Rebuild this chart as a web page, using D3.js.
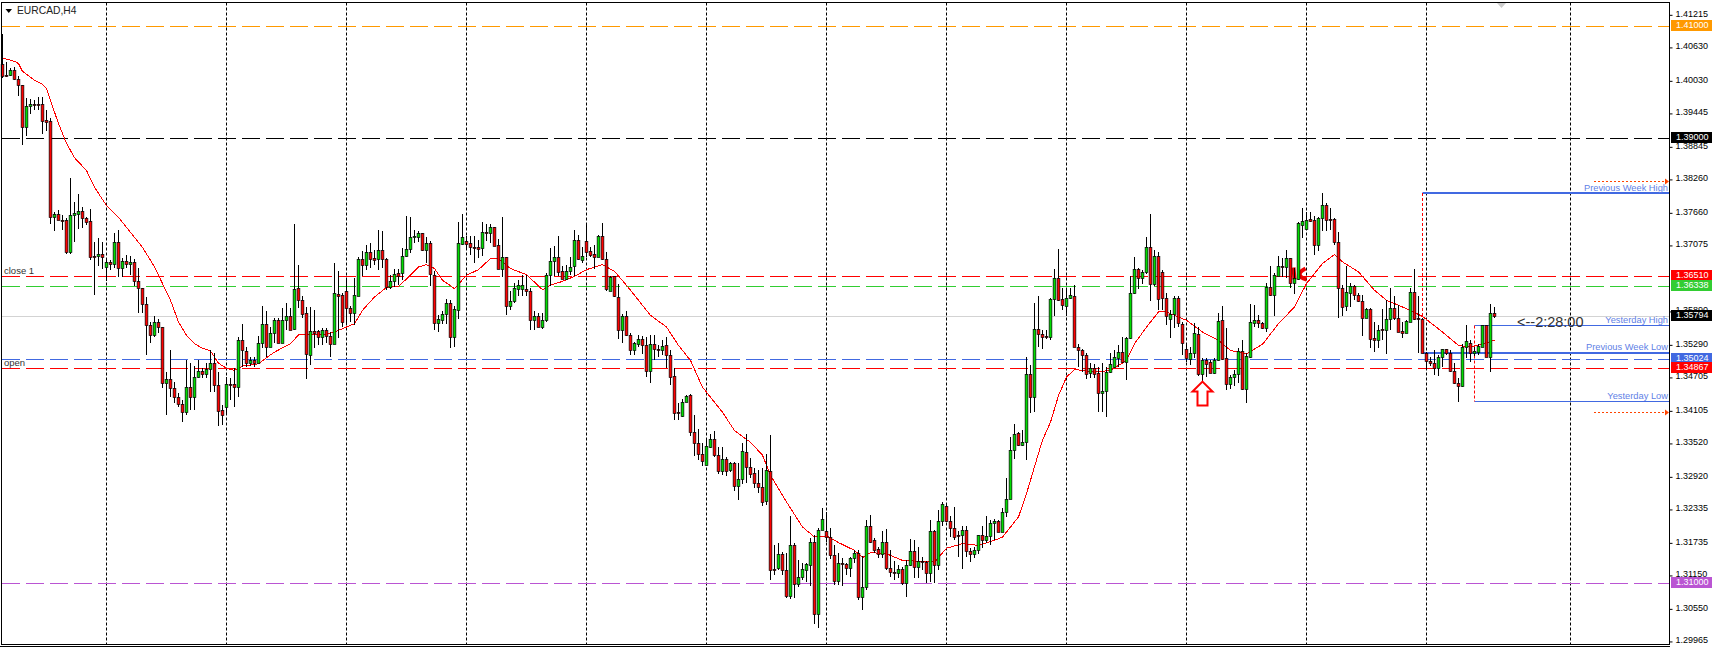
<!DOCTYPE html>
<html>
<head>
<meta charset="utf-8">
<title>EURCAD,H4</title>
<script src="https://cdn.jsdelivr.net/npm/d3@7"></script>
<style>
  body { margin: 0; background: #fff; }
  svg { display: block; }
  text { font-family: "Liberation Sans", sans-serif; }
</style>
</head>
<body>
<div id="chart"></div>
<script>
// Candle values, in pips above 1.0000 (4032 = 1.4032).
const highs = [
  4086,4036,4025,4027,4011,3995,3971,3970,3968,3973,
  3973,3950,3935,3767,3770,3761,3756,3828,3785,3799,
  3776,3758,3772,3712,3720,3712,3684,3681,3729,3734,
  3684,3690,3688,3682,3666,3630,3614,3570,3579,3574,
  3560,3480,3519,3462,3442,3429,3501,3495,3490,3500,
  3487,3496,3519,3514,3480,3420,3471,3469,3487,3543,
  3566,3525,3507,3507,3544,3598,3588,3561,3576,3576,
  3594,3604,3594,3745,3672,3616,3596,3596,3591,3555,
  3558,3558,3552,3675,3660,3621,3648,3597,3648,3686,
  3697,3707,3711,3699,3734,3733,3684,3654,3664,3664,
  3702,3760,3757,3734,3733,3729,3722,3714,3660,3582,
  3588,3610,3609,3597,3749,3763,3724,3724,3724,3717,
  3749,3745,3745,3740,3719,3757,3686,3624,3640,3645,
  3654,3654,3630,3588,3586,3585,3657,3702,3706,3724,
  3669,3672,3686,3734,3725,3704,3745,3704,3707,3725,
  3746,3695,3652,3652,3638,3584,3589,3549,3534,3545,
  3544,3543,3546,3546,3528,3537,3543,3519,3486,3423,
  3431,3438,3440,3402,3377,3352,3357,3368,3374,3345,
  3344,3326,3318,3317,3316,3352,3368,3325,3307,3304,
  3307,3332,3366,3169,3172,3157,3154,3221,3172,3142,
  3137,3137,3182,3187,3199,3235,3228,3199,3169,3155,
  3146,3137,3148,3159,3159,3149,3214,3223,3181,3166,
  3194,3197,3160,3140,3133,3129,3142,3180,3177,3166,
  3147,3140,3214,3196,3232,3246,3241,3220,3237,3194,
  3203,3202,3164,3165,3186,3203,3221,3214,3215,3214,
  3235,3289,3363,3386,3372,3375,3507,3492,3604,3615,
  3555,3555,3612,3664,3700,3630,3630,3630,3636,3530,
  3520,3514,3495,3494,3489,3495,3489,3514,3519,3527,
  3543,3543,3651,3685,3666,3663,3722,3763,3698,3695,
  3663,3621,3591,3615,3616,3570,3528,3525,3568,3560,
  3504,3504,3501,3504,3585,3597,3558,3474,3483,3522,
  3537,3513,3601,3600,3582,3570,3640,3670,3657,3688,
  3684,3698,3684,3666,3749,3773,3767,3766,3760,3758,
  3800,3783,3773,3755,3731,3636,3669,3639,3636,3621,
  3618,3594,3594,3570,3564,3592,3609,3630,3615,3600,
  3570,3573,3630,3665,3615,3576,3516,3507,3519,3510,
  3521,3521,3519,3495,3468,3529,3563,3537,3525,3530,
  3564,3564,3602,3596
];
const lows = [
  4007,4009,4011,4004,3975,3887,3903,3943,3950,3950,
  3907,3912,3745,3733,3752,3734,3692,3692,3713,3736,
  3738,3743,3681,3618,3669,3664,3643,3663,3666,3650,
  3650,3666,3654,3634,3585,3585,3509,3532,3543,3549,
  3450,3402,3435,3423,3417,3390,3402,3411,3411,3468,
  3468,3469,3444,3444,3383,3384,3406,3429,3416,3435,
  3489,3489,3491,3489,3495,3522,3507,3525,3532,3532,
  3532,3554,3554,3554,3594,3576,3467,3492,3522,3528,
  3528,3531,3507,3529,3540,3561,3564,3570,3564,3615,
  3651,3663,3666,3672,3663,3666,3627,3628,3632,3636,
  3645,3686,3693,3711,3712,3696,3675,3633,3555,3552,
  3566,3566,3523,3525,3575,3707,3700,3690,3675,3684,
  3688,3715,3711,3706,3664,3650,3582,3590,3603,3615,
  3615,3615,3554,3555,3561,3556,3570,3633,3651,3651,
  3646,3645,3654,3651,3680,3675,3686,3686,3664,3686,
  3681,3625,3624,3614,3538,3532,3544,3510,3509,3525,
  3512,3471,3459,3501,3507,3510,3486,3456,3393,3393,
  3399,3425,3365,3329,3322,3311,3313,3343,3327,3297,
  3295,3293,3300,3266,3250,3279,3280,3289,3271,3262,
  3238,3241,3106,3115,3124,3115,3073,3072,3074,3093,
  3106,3103,3096,3027,3019,3196,3175,3144,3097,3097,
  3096,3115,3112,3137,3070,3052,3088,3173,3154,3145,
  3145,3124,3112,3106,3109,3097,3075,3131,3110,3109,
  3124,3101,3103,3101,3124,3202,3210,3184,3178,3148,
  3126,3148,3139,3145,3153,3163,3172,3168,3178,3192,
  3192,3219,3251,3323,3347,3347,3321,3406,3408,3525,
  3521,3539,3536,3580,3606,3591,3579,3611,3525,3489,
  3480,3467,3468,3468,3408,3407,3398,3477,3487,3489,
  3495,3465,3539,3619,3629,3638,3655,3606,3633,3591,
  3591,3564,3540,3559,3561,3510,3498,3492,3504,3473,
  3456,3470,3477,3476,3499,3501,3447,3448,3454,3459,
  3447,3424,3504,3561,3558,3556,3552,3615,3580,3651,
  3650,3648,3630,3620,3645,3720,3734,3749,3690,3696,
  3733,3733,3734,3707,3576,3579,3588,3596,3609,3605,
  3544,3576,3522,3516,3522,3537,3512,3555,3573,3552,
  3540,3549,3569,3573,3514,3513,3483,3490,3474,3472,
  3489,3510,3480,3458,3426,3453,3504,3498,3508,3510,
  3524,3506,3480,3577
];
const opens = [
  4032,4013,4013,4022,4006,3995,3919,3957,3961,3961,
  3961,3931,3930,3757,3763,3753,3752,3694,3761,3763,
  3769,3756,3751,3688,3688,3691,3667,3677,3673,3712,
  3666,3679,3673,3677,3643,3630,3601,3564,3545,3569,
  3560,3459,3466,3450,3434,3422,3407,3452,3434,3470,
  3481,3475,3485,3495,3456,3411,3416,3458,3457,3453,
  3536,3517,3496,3501,3496,3531,3565,3525,3549,3573,
  3532,3572,3579,3556,3630,3609,3585,3509,3553,3553,
  3543,3555,3544,3530,3619,3617,3624,3594,3586,3615,
  3682,3672,3695,3684,3682,3699,3682,3632,3642,3657,
  3657,3688,3700,3721,3722,3729,3699,3711,3654,3567,
  3572,3583,3603,3542,3590,3709,3715,3711,3704,3704,
  3702,3731,3729,3739,3707,3664,3685,3597,3606,3628,
  3628,3628,3624,3573,3579,3561,3572,3654,3678,3685,
  3660,3647,3661,3669,3717,3681,3714,3697,3691,3686,
  3724,3682,3625,3651,3614,3554,3579,3546,3519,3530,
  3539,3528,3482,3529,3521,3519,3528,3510,3472,3407,
  3401,3426,3438,3372,3351,3333,3313,3345,3359,3331,
  3302,3323,3304,3316,3274,3287,3336,3309,3298,3280,
  3273,3247,3302,3125,3127,3152,3123,3077,3168,3098,
  3111,3124,3132,3175,3045,3196,3194,3183,3151,3104,
  3137,3134,3127,3145,3155,3076,3093,3203,3177,3161,
  3153,3174,3128,3121,3119,3125,3100,3133,3158,3129,
  3140,3139,3118,3194,3132,3212,3238,3212,3199,3187,
  3187,3195,3158,3153,3160,3186,3177,3185,3209,3212,
  3192,3228,3251,3339,3370,3349,3354,3476,3435,3556,
  3547,3544,3542,3610,3648,3610,3597,3612,3616,3525,
  3518,3509,3477,3487,3477,3441,3445,3479,3489,3505,
  3515,3497,3541,3621,3664,3648,3658,3703,3638,3688,
  3658,3612,3574,3583,3612,3565,3520,3503,3513,3547,
  3475,3500,3497,3478,3501,3572,3504,3457,3471,3475,
  3517,3449,3507,3568,3572,3567,3559,3632,3617,3652,
  3669,3668,3684,3639,3646,3743,3736,3754,3752,3708,
  3755,3779,3754,3754,3713,3631,3597,3622,3633,3618,
  3607,3577,3592,3540,3537,3556,3554,3574,3594,3576,
  3553,3550,3570,3623,3576,3574,3513,3499,3495,3486,
  3507,3520,3513,3481,3459,3454,3524,3532,3513,3515,
  3525,3563,3507,3585
];
const closes = [
  4011,4011,4022,4006,3995,3919,3957,3961,3959,3959,
  3930,3929,3758,3763,3752,3751,3694,3761,3765,3769,
  3755,3749,3685,3686,3691,3685,3677,3673,3712,3666,
  3679,3673,3677,3642,3631,3601,3563,3545,3569,3560,
  3459,3466,3450,3434,3422,3407,3452,3434,3470,3481,
  3475,3485,3496,3456,3410,3402,3457,3456,3453,3536,
  3519,3496,3501,3496,3531,3565,3525,3549,3573,3532,
  3573,3579,3554,3629,3608,3584,3511,3553,3550,3543,
  3555,3544,3529,3621,3615,3570,3594,3586,3617,3682,
  3672,3694,3682,3681,3699,3682,3632,3642,3655,3652,
  3688,3700,3722,3724,3729,3699,3711,3655,3567,3574,
  3583,3603,3542,3592,3711,3721,3709,3703,3702,3701,
  3730,3729,3739,3706,3664,3685,3597,3606,3630,3635,
  3635,3624,3573,3579,3561,3572,3654,3678,3685,3658,
  3647,3661,3667,3717,3682,3688,3695,3690,3686,3724,
  3682,3628,3650,3615,3554,3579,3545,3519,3531,3539,
  3527,3482,3529,3520,3518,3526,3509,3471,3405,3405,
  3426,3437,3372,3351,3333,3320,3346,3359,3331,3302,
  3323,3302,3316,3274,3287,3337,3308,3297,3280,3273,
  3246,3304,3123,3124,3152,3123,3077,3168,3098,3111,
  3125,3134,3174,3045,3196,3215,3183,3151,3104,3136,
  3134,3127,3145,3155,3076,3093,3203,3174,3160,3153,
  3174,3128,3121,3118,3125,3100,3133,3158,3129,3140,
  3138,3118,3193,3132,3212,3242,3212,3199,3184,3185,
  3195,3158,3153,3160,3186,3177,3185,3208,3212,3192,
  3228,3251,3339,3368,3349,3354,3476,3435,3556,3547,
  3543,3542,3610,3648,3608,3600,3612,3617,3525,3518,
  3509,3476,3487,3476,3441,3445,3479,3494,3506,3515,
  3497,3541,3621,3664,3648,3658,3703,3638,3688,3611,
  3612,3579,3583,3612,3567,3531,3505,3513,3549,3475,
  3500,3494,3478,3501,3571,3502,3457,3470,3475,3517,
  3449,3508,3569,3572,3567,3559,3632,3617,3653,3669,
  3667,3684,3640,3648,3746,3750,3752,3751,3708,3755,
  3779,3752,3752,3713,3631,3596,3623,3633,3618,3606,
  3577,3592,3539,3537,3555,3554,3574,3594,3577,3552,
  3550,3571,3623,3574,3574,3513,3499,3495,3486,3507,
  3520,3513,3481,3459,3455,3525,3535,3514,3517,3526,
  3563,3507,3585,3579
];

// Moving average at these bars.
const maBars = [0,3,4,5,8,10,11,12,14,16,18,21,23,26,29,32,35,38,40,42,44,46,48,50,52,54,56,58,60,64,66,68,72,74,76,80,83,88,90,93,96,99,102,104,106,108,110,113,116,119,122,124,127,131,135,137,140,143,146,150,153,156,160,162,166,169,172,175,178,180,183,187,190,192,196,200,203,206,209,213,215,217,221,225,230,233,236,240,244,248,250,254,256,258,260,262,264,266,268,273,277,281,283,286,289,291,296,300,304,307,311,315,319,323,326,330,333,335,339,343,346,351,355,360,364,367,373];
const maValues = [4044,4038,4034,4020,4004,3997,3989,3968,3926,3891,3865,3842,3812,3779,3758,3731,3704,3669,3639,3609,3570,3546,3531,3523,3518,3496,3487,3483,3491,3495,3506,3516,3531,3547,3547,3547,3552,3567,3591,3615,3632,3634,3654,3669,3673,3666,3645,3630,3654,3664,3684,3684,3666,3655,3628,3636,3643,3652,3664,3673,3661,3636,3600,3582,3561,3528,3501,3453,3426,3408,3375,3354,3331,3295,3247,3202,3184,3186,3174,3160,3147,3156,3154,3142,3140,3139,3164,3172,3169,3178,3184,3220,3262,3310,3358,3390,3438,3471,3485,3480,3483,3501,3531,3561,3588,3588,3573,3552,3537,3519,3513,3530,3567,3597,3639,3675,3691,3678,3660,3627,3609,3594,3580,3552,3528,3525,3537];

// Price scale labels and vertical separators.
const yTicks = [1.41215,1.40630,1.40030,1.39445,1.38845,1.38260,1.37660,1.37075,1.35890,1.35290,1.34705,1.34105,1.33520,1.32920,1.32335,1.31735,1.31150,1.30550,1.29965];
const gridBars = [26,56,86,116,146,176,206,236,266,296,326,356,392];

// Horizontal price levels with their tags.
const levelPrices = [1.41000,1.39000,1.36510,1.36338,1.35024,1.34867,1.31000];
const levelColors = ["#ff9900","#000000","#ff0000","#32cd32","#4169e1","#ff0000","#ba55d3"];

// Weekly and daily range lines.
const rangeNames = ["Previous Week High","Previous Week Low","Yesterday High","Yesterday Low"];
const rangePrices = [1.38016,1.35144,1.35637,1.34273];
const rangeStart = [355,355,368,368];
const rangeWidth = [2,2,1,1];
const rangeLabelPrices = [1.38046,1.35191,1.35676,1.34324];
const lastPrice = 1.35794;
const arrowPrices = [1.38223,1.34076];

const width = 1714;
const height = 647;
const plotLeft = 1.5;
const plotRight = 1669.5;
const plotTop = 2.5;
const plotBottom = 644.5;

const x = d3.scaleLinear([0, 373], [2.5, 1494.5]);
const y = d3.scaleLinear([1.41, 1.31], [26.8, 583.8]);
const fromPips = d => 1 + d / 10000;
const crisp = v => Math.floor(v) + 0.5;

const svg = d3.select("#chart").append("svg")
  .attr("width", width)
  .attr("height", height)
  .attr("viewBox", [0, 0, width, height]);

// Gray shift marker under the top edge.
svg.append("path")
  .attr("fill", "#cccccc")
  .attr("d", "M1497,3L1506,3L1501.5,8Z");

// Vertical separators.
svg.append("g").selectAll("line").data(gridBars).join("line")
  .attr("x1", d => x(d)).attr("x2", d => x(d))
  .attr("y1", plotTop).attr("y2", plotBottom)
  .attr("stroke", "#000").attr("stroke-dasharray", "3,2");

// Current price line.
svg.append("line")
  .attr("x1", plotLeft).attr("x2", plotRight)
  .attr("y1", crisp(y(lastPrice))).attr("y2", crisp(y(lastPrice)))
  .attr("stroke", "#d3d3d3");

// Dashed price levels.
svg.append("g").selectAll("line").data(levelPrices).join("line")
  .attr("x1", 2).attr("x2", plotRight)
  .attr("y1", d => crisp(y(d))).attr("y2", d => crisp(y(d)))
  .attr("stroke", (d, i) => levelColors[i])
  .attr("stroke-dasharray", "18,6");

// Range lines, joined by dotted red verticals.
svg.append("g").selectAll("line").data(rangePrices).join("line")
  .attr("x1", (d, i) => x(rangeStart[i])).attr("x2", plotRight)
  .attr("y1", (d, i) => rangeWidth[i] == 2 ? Math.round(y(d)) : crisp(y(d)))
  .attr("y2", (d, i) => rangeWidth[i] == 2 ? Math.round(y(d)) : crisp(y(d)))
  .attr("stroke", "#4169e1")
  .attr("stroke-width", (d, i) => rangeWidth[i]);
[[0, 1], [2, 3]].forEach(([a, b]) => {
  svg.append("line")
    .attr("x1", x(rangeStart[a])).attr("x2", x(rangeStart[a]))
    .attr("y1", y(rangePrices[a])).attr("y2", y(rangePrices[b]))
    .attr("stroke", "#ff0000").attr("stroke-dasharray", "3,2");
});

// Range arrows at the right edge.
const arrows = svg.append("g").selectAll("g").data(arrowPrices).join("g")
  .attr("transform", d => `translate(0,${crisp(y(d))})`);
arrows.append("line")
  .attr("x1", 1594).attr("x2", 1665)
  .attr("stroke", "#ff4500").attr("stroke-dasharray", "2,2");
arrows.append("path")
  .attr("fill", "#ff4500")
  .attr("d", "M1665,-3L1669,0L1665,3Z");

// Moving average.
const ma = d3.line()
  .x((d, i) => x(maBars[i]))
  .y(d => y(fromPips(d)));
svg.append("path")
  .attr("fill", "none")
  .attr("stroke", "#ff0000")
  .attr("shape-rendering", "crispEdges")
  .attr("d", ma(maValues));

// Red curl mark near the top of the last swing, behind the candles.
const curlX = x(323);
const curlY = crisp(y(fromPips(3667)));
svg.append("path")
  .attr("fill", "none")
  .attr("stroke", "#ee0000")
  .attr("stroke-width", 4)
  .attr("d", `M${curlX - 1},${curlY}L${curlX},${curlY + 12}M${curlX + 11},${curlY + 1}Q${curlX + 3},${curlY + 5} ${curlX + 6},${curlY + 9}Q${curlX + 8},${curlY + 11} ${curlX + 12},${curlY + 12}`);

// Candles.
const bars = opens.map((o, i) => ({ i, o: fromPips(o), c: fromPips(closes[i]), h: fromPips(highs[i]), l: fromPips(lows[i]) }));
const candle = svg.append("g").selectAll("g").data(bars).join("g");
candle.append("line")
  .attr("x1", d => x(d.i)).attr("x2", d => x(d.i))
  .attr("y1", d => Math.floor(y(d.h))).attr("y2", d => Math.floor(y(d.l)))
  .attr("stroke", "#000");
candle.append("rect")
  .attr("x", d => x(d.i) - 1.35)
  .attr("width", 2.7)
  .attr("y", d => crisp(y(Math.max(d.o, d.c))))
  .attr("height", d => Math.max(1, crisp(y(Math.min(d.o, d.c))) - crisp(y(Math.max(d.o, d.c)))))
  .attr("fill", d => d.c > d.o ? "#00dd00" : "#ff0000")
  .attr("stroke", "#000")
  .attr("stroke-width", 0.7);

// Hollow up arrow under the low.
const upX = x(300);
const upY = y(fromPips(3463));
svg.append("path")
  .attr("fill", "#fff")
  .attr("stroke", "#ff0000")
  .attr("stroke-width", 2)
  .attr("d", `M${upX},${upY}L${upX + 10},${upY + 10}L${upX + 5},${upY + 10}L${upX + 5},${upY + 24}L${upX - 5},${upY + 24}L${upX - 5},${upY + 10}L${upX - 10},${upY + 10}Z`);

// Plot frame.
svg.append("rect")
  .attr("x", plotLeft).attr("y", plotTop)
  .attr("width", plotRight - plotLeft).attr("height", plotBottom - plotTop)
  .attr("fill", "none").attr("stroke", "#000");
svg.append("line")
  .attr("x1", 0).attr("x2", plotRight + 0.5)
  .attr("y1", 646.5).attr("y2", 646.5)
  .attr("stroke", "#000");

// Price axis.
svg.append("g")
  .attr("transform", `translate(${plotRight},0)`)
  .call(d3.axisRight(y).tickValues(yTicks).tickFormat(d3.format(".5f")).tickSize(3).tickPadding(3))
  .call(g => g.select(".domain").remove())
  .call(g => g.selectAll("text").attr("font-family", "Liberation Sans").attr("font-size", 9).attr("dy", "0.16em").attr("fill", "#000"));

// Price tags over the axis labels.
const tagData = levelPrices.map((p, i) => ({ p, color: levelColors[i] })).concat([{ p: lastPrice, color: "#000000" }]);
const tags = svg.append("g").selectAll("g").data(tagData).join("g")
  .attr("transform", d => `translate(1671,${crisp(y(d.p))})`);
tags.append("rect")
  .attr("y", -6.5).attr("width", 41).attr("height", 11)
  .attr("fill", d => d.color);
tags.append("text")
  .attr("x", 5).attr("dy", "0.2em")
  .attr("font-size", 9)
  .attr("fill", "#fff")
  .text(d => d3.format(".5f")(d.p));

// Text on the chart.
svg.append("path").attr("fill", "#000").attr("d", "M5.5,9L12,9L8.75,13Z");
svg.append("text").attr("x", 17).attr("y", 14).attr("font-size", 10.3).attr("fill", "#222").text("EURCAD,H4");
svg.append("text").attr("x", 4).attr("y", 274).attr("font-size", 9.5).attr("fill", "#333").text("close 1");
svg.append("text").attr("x", 4).attr("y", 366).attr("font-size", 9.5).attr("fill", "#333").text("open");
svg.append("text").attr("x", 1517).attr("y", 327).attr("font-size", 14.5).attr("fill", "#333").text("<--2:28:00");
svg.append("g").selectAll("text").data(rangeNames).join("text")
  .attr("x", 1668)
  .attr("y", (d, i) => y(rangeLabelPrices[i]))
  .attr("text-anchor", "end")
  .attr("font-size", 9.3)
  .attr("fill", "#5f7fe6")
  .text(d => d);
</script>
</body>
</html>
